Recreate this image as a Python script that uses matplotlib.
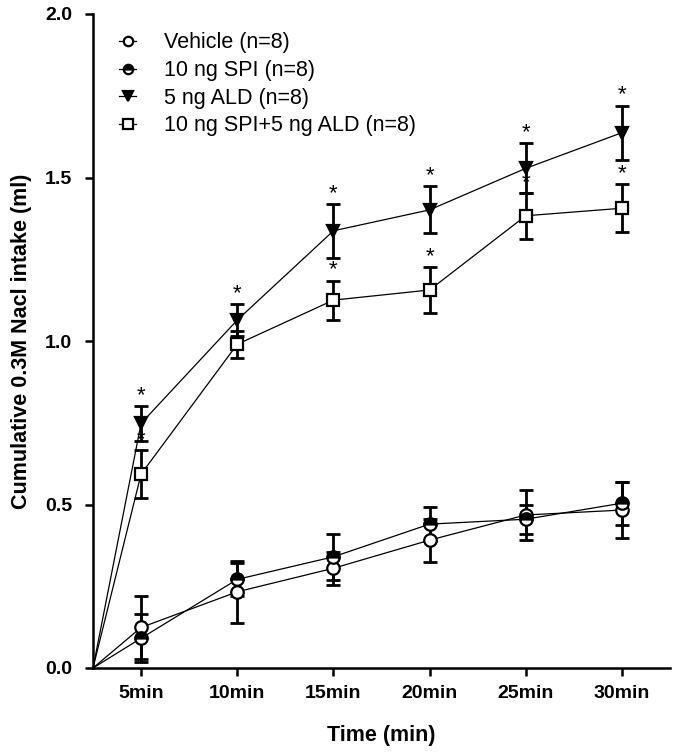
import numpy as np
import matplotlib
matplotlib.use("Agg")
import matplotlib.pyplot as plt

plt.rcParams['font.family'] = ['Liberation Sans', 'DejaVu Sans']

categories = ["5min", "10min", "15min", "20min", "25min", "30min"]
labels = ["Vehicle (n=8)", "10 ng SPI (n=8)", "5 ng ALD (n=8)", "10 ng SPI+5 ng ALD (n=8)"]

vehicle = [0.124, 0.233, 0.305, 0.391, 0.468, 0.483]
vehicle_err = [0.095, 0.094, 0.050, 0.066, 0.076, 0.085]
spi = [0.091, 0.271, 0.340, 0.440, 0.455, 0.504]
spi_err = [0.074, 0.050, 0.070, 0.053, 0.045, 0.066]
ald = [0.748, 1.064, 1.337, 1.401, 1.528, 1.637]
ald_err = [0.053, 0.050, 0.082, 0.072, 0.076, 0.083]
combo = [0.593, 0.990, 1.125, 1.156, 1.383, 1.406]
combo_err = [0.074, 0.042, 0.060, 0.071, 0.070, 0.073]

ald_sig = [True, True, True, True, True, True]
combo_sig = [True, True, True, True, True, True]

fig = plt.figure(figsize=(6.75, 7.53), dpi=100)
ax = fig.add_axes([93/675, 1-668/753, (670-93)/675, (668-14)/753])

x = np.arange(1, len(categories) + 1)
x0 = 0.5
ax.set_xlim(x0, len(categories) + 0.5)
ax.set_ylim(0, 2.0)

styles = [
    dict(marker='o', mfc='white', mec='black', fillstyle='full'),
    dict(marker='o', mfc='black', mec='black', fillstyle='top', markerfacecoloralt='white'),
    dict(marker='v', mfc='black', mec='black', fillstyle='full'),
    dict(marker='s', mfc='white', mec='black', fillstyle='full'),
]
series = [(vehicle, vehicle_err), (spi, spi_err), (ald, ald_err), (combo, combo_err)]

handles = []
for (vals, errs), st, lab in zip(series, styles, labels):
    ax.errorbar(x, vals, yerr=errs, fmt='none', ecolor='black', elinewidth=2.0,
                capsize=5, capthick=2.0, zorder=2)
    xx = np.r_[x0, x]
    yy = np.r_[0.0, vals]
    h, = ax.plot(xx, yy, color='black', lw=0.9, marker=st['marker'], ms=9,
                 mfc=st['mfc'], mec=st['mec'], mew=1.6, fillstyle=st['fillstyle'],
                 markerfacecoloralt=st.get('markerfacecoloralt', 'none'),
                 markevery=list(range(1, len(xx))), zorder=3, label=lab,
                 clip_on=False)
    handles.append(h)

for vals, errs, sig in [(ald, ald_err, ald_sig), (combo, combo_err, combo_sig)]:
    for xi, v, e, s in zip(x, vals, errs, sig):
        if s:
            ax.annotate('*', (xi, v + e), xytext=(0, 0), textcoords='offset points',
                        ha='center', va='bottom', fontsize=16)

ax.set_xticks(x)
ax.set_xticklabels(categories, fontsize=14, fontweight='bold')
ax.set_yticks([0, 0.5, 1.0, 1.5, 2.0])
ax.set_yticklabels(["0.0", "0.5", "1.0", "1.5", "2.0"], fontsize=14, fontweight='bold')
ax.tick_params(direction='out', length=6, width=1.8)
ax.tick_params(axis='y', pad=9)
ax.tick_params(axis='x', pad=6)

for sp in ['top', 'right']:
    ax.spines[sp].set_visible(False)
for sp in ['left', 'bottom']:
    ax.spines[sp].set_linewidth(1.8)

ax.set_xlabel("Time (min)", fontsize=15.5, fontweight='bold', labelpad=17)
ax.set_ylabel("Cumulative 0.3M Nacl intake (ml)", fontsize=15.5, fontweight='bold', labelpad=9)

leg = ax.legend(handles=handles, loc='upper left', bbox_to_anchor=(0.03, 0.985),
                frameon=False, fontsize=15.5, handlelength=0.8, handletextpad=1.3,
                labelspacing=0.31, markerscale=0.75, borderaxespad=0)

fig.savefig("out.png", dpi=100)
